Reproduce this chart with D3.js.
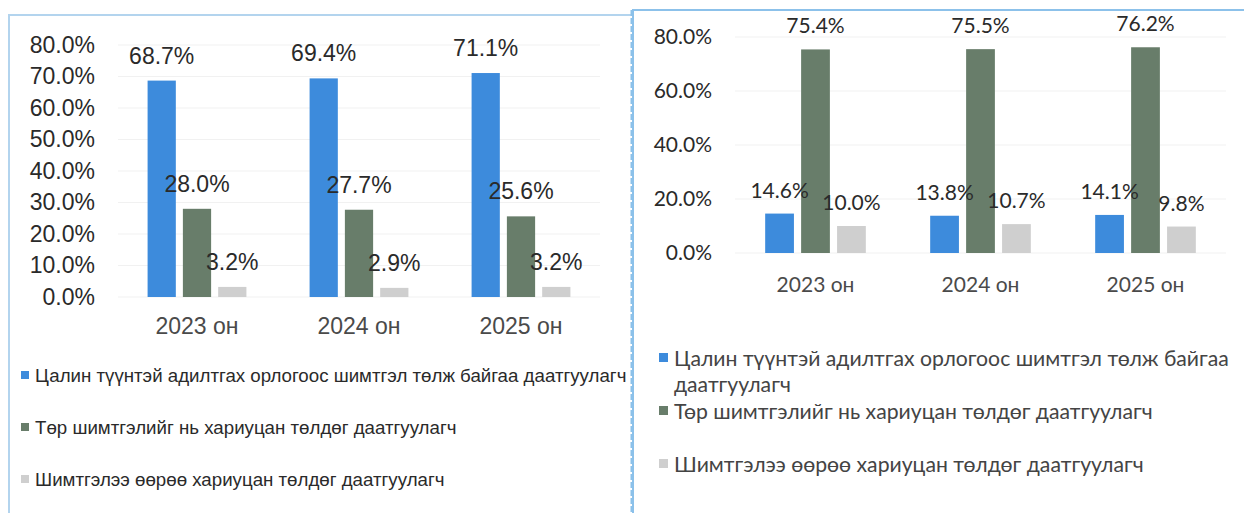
<!DOCTYPE html>
<html>
<head>
<meta charset="utf-8">
<script src="https://cdn.jsdelivr.net/npm/d3@7"></script>
<style>
  body { margin: 0; background: #fff; }
  svg { display: block; }
</style>
</head>
<body>
<div id="chart"></div>
<script>
// categories and series
var years = ["2023 он", "2024 он", "2025 он"];
var seriesNames = [
    "Цалин түүнтэй адилтгах орлогоос шимтгэл төлж байгаа даатгуулагч",
    "Төр шимтгэлийг нь хариуцан төлдөг даатгуулагч",
    "Шимтгэлээ өөрөө хариуцан төлдөг даатгуулагч"
];
// left chart values (%)
var leftSalary = [68.7, 69.4, 71.1];
var leftState = [28.0, 27.7, 25.6];
var leftSelf = [3.2, 2.9, 3.2];
var leftTicks = [0, 10, 20, 30, 40, 50, 60, 70, 80];
// right chart values (%)
var rightSalary = [14.6, 13.8, 14.1];
var rightState = [75.4, 75.5, 76.2];
var rightSelf = [10.0, 10.7, 9.8];
var rightTicks = [0, 20, 40, 60, 80];

var colors = ["#3d8bdc", "#687d6a", "#cfcfcf"];
var width = 1244, height = 513;

var svg = d3.select("#chart").append("svg")
    .attr("width", width)
    .attr("height", height);

// panel frames
svg.append("path").attr("d", "M9,513 L9,15 L633,15")
    .attr("fill", "none").attr("stroke", "#b3d4ee").attr("stroke-width", 2);
svg.append("path").attr("d", "M633,513 L633,10 L1244,10")
    .attr("fill", "none").attr("stroke", "#8cc1ea").attr("stroke-width", 2);
svg.append("line").attr("x1", 632).attr("x2", 632).attr("y1", 10).attr("y2", 513)
    .attr("stroke", "#8cc1ea").attr("stroke-width", 3).attr("stroke-dasharray", "6,2");

function drawPanel(p) {
    var g = svg.append("g").style("font-family", p.font);
    var rows = years.map(function(yr, i) {
        return {year: yr, vals: p.series.map(function(s) { return s[i]; })};
    });

    var x0 = d3.scaleBand().domain(years).range(p.xRange)
        .paddingInner(0.39).paddingOuter(0.195);
    var x1 = d3.scaleBand().domain([0, 1, 2]).range([0, x0.bandwidth()])
        .paddingInner(0.2);
    var y = d3.scaleLinear().domain([0, 80]).range(p.yRange);

    // faint gridlines
    g.selectAll("line.grid").data(p.ticks).enter().append("line")
        .attr("class", "grid")
        .attr("x1", p.xRange[0] + 2).attr("x2", p.xRange[1] - 2)
        .attr("y1", function(d) { return y(d); })
        .attr("y2", function(d) { return y(d); })
        .attr("stroke", "#f1f1f1").attr("stroke-width", 1);

    // y axis
    var yAxis = g.append("g")
        .attr("transform", "translate(" + p.axisX + ",0)")
        .call(d3.axisLeft(y).tickValues(p.ticks).tickSize(0).tickPadding(0)
            .tickFormat(function(d) { return d.toFixed(1) + "%"; }));
    yAxis.select(".domain").remove();
    yAxis.selectAll("text")
        .style("font-family", p.font)
        .style("font-size", p.fontSize + "px")
        .attr("fill", "#2a2a2a");

    // x axis
    var xAxis = g.append("g")
        .attr("transform", "translate(0," + p.yRange[0] + ")")
        .call(d3.axisBottom(x0).tickSize(0).tickPadding(p.catPad));
    xAxis.select(".domain").remove();
    xAxis.selectAll("text")
        .style("font-family", p.font)
        .style("font-size", p.fontSize + "px")
        .attr("fill", "#4a4a4a");

    var groups = g.selectAll("g.grp").data(rows).enter().append("g")
        .attr("class", "grp")
        .attr("transform", function(d) { return "translate(" + x0(d.year) + ",0)"; });

    groups.selectAll("rect").data(function(d) { return d.vals; }).enter().append("rect")
        .attr("x", function(d, i) { return x1(i); })
        .attr("width", x1.bandwidth())
        .attr("y", function(d) { return y(d); })
        .attr("height", function(d) { return y(0) - y(d); })
        .attr("fill", function(d, i) { return colors[i]; });

    groups.selectAll("text.lbl").data(function(d) { return d.vals; }).enter().append("text")
        .attr("class", "lbl")
        .attr("x", function(d, i) { return x1(i) + x1.bandwidth() / 2; })
        .attr("y", function(d) { return y(d) - p.labelGap; })
        .attr("text-anchor", "middle")
        .style("font-size", p.fontSize + "px")
        .attr("fill", "#2a2a2a")
        .text(function(d) { return d.toFixed(1) + "%"; });

    // legend
    var leg = g.selectAll("g.leg").data(seriesNames).enter().append("g")
        .attr("class", "leg")
        .attr("transform", function(d, i) { return "translate(" + p.legX + "," + p.legY[i] + ")"; });
    leg.append("rect")
        .attr("x", 0).attr("y", -p.sq - p.sqLift)
        .attr("width", p.sq).attr("height", p.sq)
        .attr("fill", function(d, i) { return colors[i]; });
    leg.each(function(name) {
        var t = d3.select(this).append("text")
            .attr("x", p.legTextX)
            .style("font-size", p.legSize + "px")
            .attr("fill", p.legColor);
        // wrap on words to the panel width
        var words = name.split(" "), line = [];
        var tspan = t.append("tspan").attr("x", p.legTextX).attr("dy", 0);
        words.forEach(function(w) {
            line.push(w);
            tspan.text(line.join(" "));
            if (tspan.node().getComputedTextLength() > p.legWidth && line.length > 1) {
                line.pop();
                tspan.text(line.join(" "));
                line = [w];
                tspan = t.append("tspan").attr("x", p.legTextX)
                    .attr("dy", p.legLine).text(w);
            }
        });
    });
}

drawPanel({
    series: [leftSalary, leftState, leftSelf],
    ticks: leftTicks,
    font: "'Liberation Sans', Arial, sans-serif",
    fontSize: 23,
    xRange: [116, 602],
    yRange: [297, 45],
    axisX: 95,
    catPad: 21,
    labelGap: 17,
    legX: 21, legTextX: 14,
    legY: [382, 434, 486],
    sq: 8, sqLift: 3,
    legSize: 18.7, legWidth: 620, legLine: 28,
    legColor: "#2a2a2a"
});

drawPanel({
    series: [rightSalary, rightState, rightSelf],
    ticks: rightTicks,
    font: "Lato, 'Open Sans', sans-serif",
    fontSize: 21,
    xRange: [733, 1228],
    yRange: [253, 37],
    axisX: 712,
    catPad: 24,
    labelGap: 16,
    legX: 659, legTextX: 15,
    legY: [366, 419, 472],
    sq: 9, sqLift: 4,
    legSize: 21.2, legWidth: 568, legLine: 26,
    legColor: "#444"
});
</script>
</body>
</html>
